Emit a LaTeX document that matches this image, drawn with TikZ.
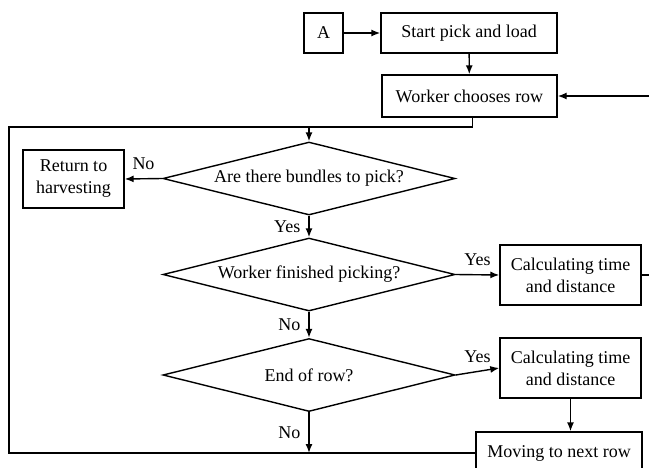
\documentclass[tikz,border=0pt]{standalone}
\usepackage{fontspec}
\setmainfont{Liberation Serif}
\usetikzlibrary{arrows.meta,shapes.geometric}
\tikzstyle{every node}=[font=\fontsize{9}{11}\selectfont]
\tikzstyle{process}=[rectangle,
                                    draw,
                                    line width=0.7pt,
                                    align=center,
                                    inner sep=0pt
                                    ]
\tikzstyle{decision}=[diamond,
                                    draw,
                                    line width=0.7pt,
                                    aspect=4,
                                    inner sep=0pt,
                                    minimum width=146pt,
                                    minimum height=36.5pt]
\tikzstyle{answer}=[inner sep=4pt]

\begin{document}
\begin{tikzpicture}[x=0.5pt,y=-0.5pt,>={Latex[length=4.5pt,width=3.5pt]},line width=0.7pt]
\useasboundingbox (0,0) rectangle (649,467);
\node (A)   [process,minimum width=19.5pt,minimum height=20pt] at (323.5,33) {A};
\node (start)   [process,minimum width=88pt,minimum height=20pt] at (469,33) {Start pick and load};
\node (choose)   [process,minimum width=87.5pt,minimum height=21pt] at (469.5,96) {Worker chooses row};
\node (bundles)   [decision] at (309,178.5) {Are there bundles to pick?};
\node (return)   [process,minimum width=50.5pt,minimum height=29pt] at (73.5,179) {Return to\\harvesting};
\node (finished)   [decision] at (309,274.5) {Worker finished picking?};
\node (calc1)   [process,minimum width=70.5pt,minimum height=30pt] at (570.5,275) {Calculating time\\and distance};
\node (endrow)   [decision] at (309,375) {End of row?};
\node (calc2)   [process,minimum width=70.5pt,minimum height=30pt] at (570.5,368) {Calculating time\\and distance};
\node (moving)   [process,minimum width=83pt,minimum height=21pt] at (559,453) {Moving to next row};
\coordinate (fromright) at (649,96);
\coordinate (toright) at (649,275);
\coordinate (looptop) at (9,127);
 \path[->] (A) edge (start);
 \path[->] (start) edge (choose);
 \path[->] (fromright) edge (choose);
 \draw ([xshift=1.5pt]choose.south) |- (looptop) |- (moving.west);
 \path[->] (bundles.north |- looptop) edge (bundles.north);
 \path[->] (bundles.west) edge node[answer,above] {No} (return.east);
 \path[->] (bundles.south) edge node[answer,left] {Yes} (finished.north);
 \path[->] (finished.east) edge node[answer,above] {Yes} (calc1.west);
 \path[->] (finished.south) edge node[answer,left] {No} (endrow.north);
 \path[->] (endrow.east) edge node[answer,above] {Yes} (calc2.west);
 \path[->] (calc2.south) edge (calc2.south |- moving.north);
 \path[->] (endrow.south) edge node[answer,left] {No} (endrow.south |- moving.west);
 \draw (calc1.east) -- (toright);
\end{tikzpicture}
\end{document}
